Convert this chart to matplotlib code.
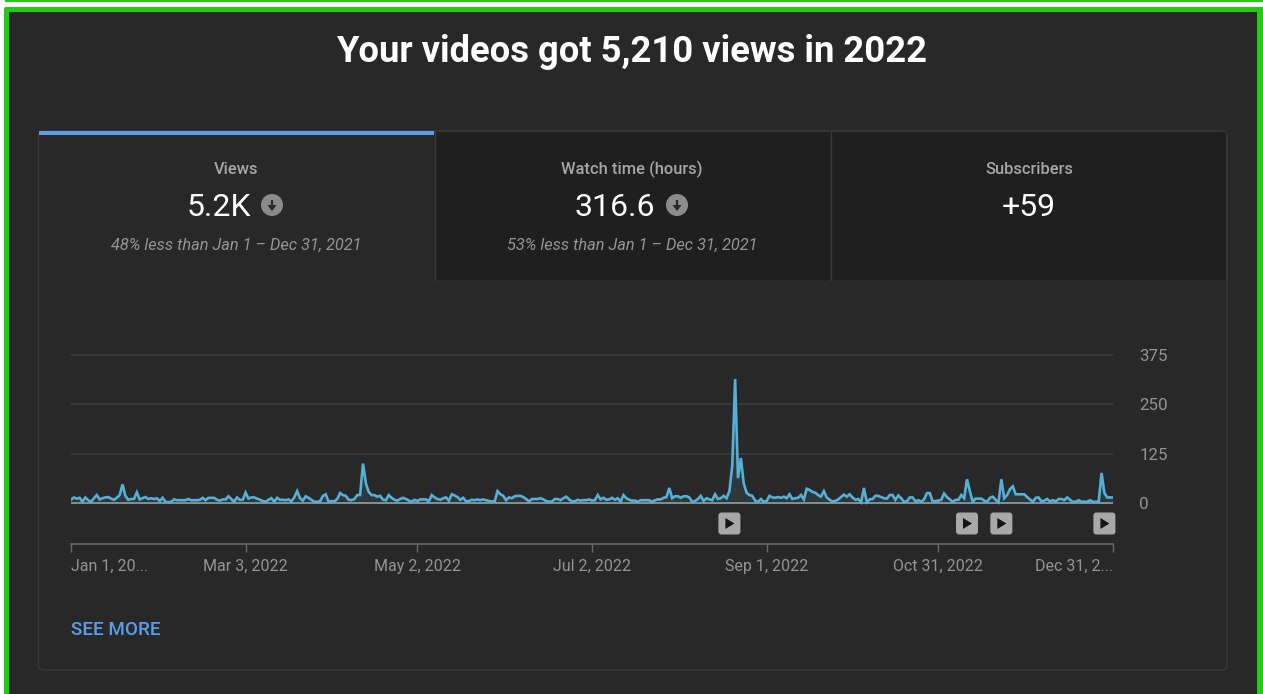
import matplotlib
matplotlib.use("Agg")
import matplotlib.dates as mdates
import matplotlib.pyplot as plt
from matplotlib.patches import Circle, FancyBboxPatch, Polygon, Rectangle
import pandas as pd

plt.rcParams["font.family"] = ["Roboto", "DejaVu Sans"]

WIDTH, HEIGHT = 1263, 694

# daily views for 2022, one row per ten days
views = [
    8, 14, 11, 13, 3, 14, 7, 3, 12, 20,
    9, 12, 14, 15, 11, 8, 13, 20, 47, 18,
    8, 10, 10, 27, 9, 12, 15, 10, 12, 10,
    12, 5, 13, 3, 2, 3, 9, 7, 7, 7,
    7, 10, 7, 7, 7, 8, 13, 7, 13, 13,
    13, 8, 6, 9, 9, 17, 10, 3, 14, 8,
    8, 26, 11, 14, 14, 11, 8, 5, 3, 8,
    12, 3, 13, 8, 8, 7, 9, 4, 14, 30,
    12, 6, 17, 13, 8, 3, 3, 4, 18, 22,
    3, 5, 4, 10, 25, 20, 18, 8, 7, 10,
    20, 20, 100, 50, 28, 20, 20, 16, 18, 8,
    7, 20, 13, 8, 6, 10, 13, 10, 6, 3,
    8, 5, 9, 9, 9, 4, 20, 14, 10, 8,
    12, 14, 6, 22, 19, 15, 8, 13, 4, 5,
    8, 7, 9, 7, 9, 7, 5, 4, 4, 30,
    22, 18, 7, 14, 12, 17, 18, 18, 15, 10,
    4, 10, 10, 10, 12, 9, 5, 3, 4, 10,
    10, 7, 12, 16, 9, 4, 4, 8, 6, 7,
    7, 9, 6, 7, 20, 9, 13, 8, 9, 13,
    8, 12, 3, 20, 12, 8, 6, 6, 3, 7,
    7, 7, 7, 3, 7, 9, 9, 13, 15, 38,
    12, 17, 17, 13, 17, 17, 14, 3, 5, 10,
    18, 5, 12, 9, 7, 22, 10, 12, 18, 12,
    30, 95, 314, 63, 114, 50, 26, 20, 18, 6,
    3, 10, 3, 5, 18, 14, 13, 15, 13, 16,
    12, 22, 10, 12, 13, 20, 9, 36, 33, 28,
    26, 20, 16, 30, 14, 8, 4, 5, 9, 15,
    21, 16, 22, 14, 8, 10, 2, 38, 2, 9,
    10, 18, 18, 15, 12, 11, 20, 20, 8, 19,
    12, 3, 4, 14, 14, 4, 7, 3, 9, 25,
    25, 4, 5, 6, 8, 24, 15, 9, 3, 8,
    8, 20, 12, 60, 30, 3, 11, 11, 11, 6,
    3, 13, 16, 8, 2, 60, 12, 20, 35, 42,
    22, 22, 22, 22, 15, 9, 3, 13, 14, 4,
    6, 10, 4, 7, 4, 10, 10, 7, 14, 8,
    3, 3, 7, 3, 3, 3, 7, 3, 3, 3,
    76, 25, 14, 14, 14,
]
days = pd.date_range("2022-01-01", periods=len(views))

video_dates = pd.to_datetime(["2022-08-19", "2022-11-10", "2022-11-22", "2022-12-28"])
tick_dates = pd.to_datetime(["2022-01-01", "2022-03-03", "2022-05-02", "2022-07-02",
                             "2022-09-01", "2022-10-31", "2022-12-31"])
tick_labels = ["Jan 1, 20...", "Mar 3, 2022", "May 2, 2022", "Jul 2, 2022",
               "Sep 1, 2022", "Oct 31, 2022", "Dec 31, 2..."]
y_ticks = [0, 125, 250, 375]

tab_names = ["Views", "Watch time (hours)", "Subscribers"]
tab_values = ["5.2K", "316.6", "+59"]
tab_notes = ["48% less than Jan 1 \u2013 Dec 31, 2021", "53% less than Jan 1 \u2013 Dec 31, 2021", ""]

BG = "#282828"
TAB_DARK = "#1f1f1f"
EDGE = "#3a3a3a"
GREEN = "#22cc11"
BLUE = "#5a9de8"
LINE = "#55b0d8"
MUTED = "#949494"


def chart_axes_rect(left, top, right, bottom):
    return [left / WIDTH, 1 - bottom / HEIGHT, (right - left) / WIDTH, (bottom - top) / HEIGHT]


def draw_frame(ax):
    # outer highlight stripes
    ax.add_patch(Rectangle((0, 0), WIDTH, HEIGHT, color="white", lw=0))
    ax.add_patch(Rectangle((5, 0), WIDTH - 5, 2, color=GREEN, lw=0))
    ax.add_patch(FancyBboxPatch((4, 7), WIDTH, HEIGHT, boxstyle="round,pad=0,rounding_size=2",
                                color=GREEN, lw=0))
    ax.add_patch(Rectangle((9, 12), 1248, HEIGHT, color=BG, lw=0))

    # card with the three tabs
    ax.add_patch(FancyBboxPatch((38.5, 131), 1188.5, 539, boxstyle="round,pad=0,rounding_size=5",
                                fc=BG, ec=EDGE, lw=1))
    ax.add_patch(Rectangle((435, 132), 791, 148, color=TAB_DARK, lw=0))
    ax.plot([435, 435], [132, 280], color=EDGE, lw=1)
    ax.plot([831, 831], [132, 280], color=EDGE, lw=1)
    ax.add_patch(Rectangle((39, 131), 395, 4, color=BLUE, lw=0))


def draw_down_badge(ax, x, y):
    ax.add_patch(Circle((x, y), 11, color="#8b8b8b", lw=0))
    ax.plot([x, x], [y - 5, y + 4], color=BG, lw=1.6, solid_capstyle="butt")
    ax.add_patch(Polygon([(x - 4.5, y), (x + 4.5, y), (x, y + 6)], color=BG, lw=0))


def draw_tabs(ax):
    centers = [236, 632, 1029]
    value_centers = [219, 615, 1029]
    for cx, vx, name, value, note in zip(centers, value_centers, tab_names, tab_values, tab_notes):
        ax.text(cx, 169, name, color="#a6a6a6", fontsize=11.9, fontweight="medium", ha="center", va="center")
        ax.text(vx, 207, value, color="white", fontsize=23, ha="center", va="center")
        if note:
            ax.text(cx, 245, note, color=MUTED, fontsize=11.8, style="italic", ha="center", va="center")
    draw_down_badge(ax, 272, 205)
    draw_down_badge(ax, 677, 205)


def draw_video_markers(ax, chart):
    for date in video_dates:
        x = chart.transData.transform((mdates.date2num(date), 0))[0]
        ax.add_patch(FancyBboxPatch((x - 10, 513.5), 20, 20, boxstyle="round,pad=1,rounding_size=3",
                                    fc="#a8a8a8", ec="none"))
        ax.add_patch(Polygon([(x - 4, 518), (x - 4, 529), (x + 5, 523.5)], color="#141414", lw=0))


def main():
    fig = plt.figure(figsize=(WIDTH / 100, HEIGHT / 100), dpi=100)

    back = fig.add_axes([0, 0, 1, 1])
    back.set_xlim(0, WIDTH)
    back.set_ylim(HEIGHT, 0)
    back.axis("off")

    draw_frame(back)
    back.text(632, 52, "Your videos got 5,210 views in 2022", color="white", fontsize=26.2,
              fontweight="bold", ha="center", va="center")
    draw_tabs(back)
    back.text(71, 630, "SEE MORE", color=BLUE, fontsize=13.6, fontweight="medium", ha="left", va="center")

    # the plot area runs from the 375 gridline down to the date axis
    chart = fig.add_axes(chart_axes_rect(71, 355, 1113, 544))
    chart.patch.set_visible(False)
    chart.set_xlim(days[0], days[-1])
    chart.set_ylim(-104, 375)

    for level in y_ticks[1:]:
        chart.axhline(level, color=EDGE, lw=1.4, zorder=1, clip_on=False, solid_capstyle="butt")
    chart.axhline(0, color="#8c8c8c", lw=1.4, zorder=2, solid_capstyle="butt")
    chart.fill_between(days, views, 0, color=LINE, alpha=0.12, lw=0, zorder=2)
    chart.plot(days, views, color=LINE, lw=1.9, solid_joinstyle="miter", zorder=3)

    for side in ["top", "left", "right"]:
        chart.spines[side].set_visible(False)
    chart.spines["bottom"].set_color("#6a6a6a")
    chart.spines["bottom"].set_linewidth(1.2)

    chart.set_xticks(tick_dates)
    chart.set_xticklabels(tick_labels, color=MUTED, fontsize=11.5)
    chart.tick_params(axis="x", color="#6a6a6a", length=5.5, width=1, pad=5)
    chart.get_xticklabels()[0].set_ha("left")
    chart.get_xticklabels()[-1].set_ha("right")

    chart.yaxis.tick_right()
    chart.set_yticks(y_ticks)
    chart.set_yticklabels(y_ticks, color=MUTED, fontsize=12.2, ha="left")
    chart.tick_params(axis="y", length=0, pad=19)

    draw_video_markers(back, chart)

    fig.savefig("out.png", dpi=100, facecolor="white")
    plt.close(fig)


if __name__ == "__main__":
    main()
